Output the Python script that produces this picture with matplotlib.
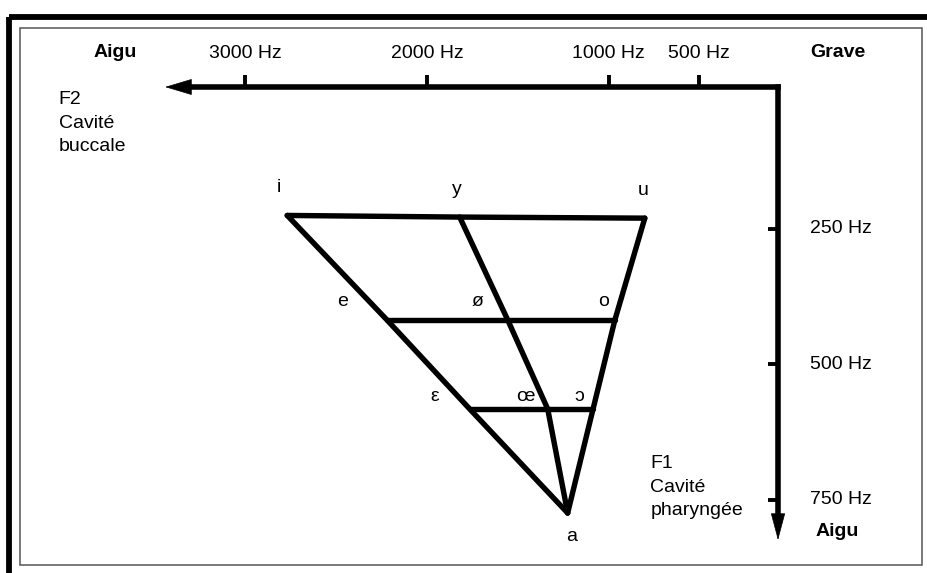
import matplotlib
matplotlib.use("Agg")
import matplotlib.pyplot as plt
from matplotlib.patches import Rectangle

plt.rcParams['font.family'] = ['Liberation Sans', 'DejaVu Sans']

# vowel formants (Hz)
vowels = ["i", "y", "u", "e", "ø", "o", "ε", "œ", "ɔ", "a"]
f2 = [2770, 1820, 800, 2220, 1555, 965, 1765, 1335, 1085, 1225]
f1 = [225, 228, 230, 418, 418, 418, 582, 582, 582, 774]
# label offsets in points (dx, dy)
label_off = [(-6, 20), (-2, 20), (-1, 20), (-32, 13), (-22, 13), (-8, 13),
             (-25, 9), (-16, 9), (-10, 9), (3, -17)]

# the lines of the trapezium, as vowel chains
chains = [["i", "y", "u"], ["e", "ø", "o"], ["ε", "œ", "ɔ"],
          ["i", "e", "ε", "a"], ["y", "ø", "œ", "a"], ["u", "o", "ɔ", "a"]]

f2_ticks = [3000, 2000, 1000, 500]
f1_ticks = [250, 500, 750]

W, H = 928, 573
fig = plt.figure(figsize=(W / 100, H / 100), dpi=100)

# frame, in pixels
fr = fig.add_axes([0, 0, 1, 1])
fr.set_xlim(0, W)
fr.set_ylim(H, 0)
fr.axis("off")
fr.add_patch(Rectangle((9.5, 16.5), 940, 600, fill=False, lw=4.2, ec="black"))
fr.add_patch(Rectangle((20.5, 28), 902, 537, fill=False, lw=1.1, ec="#555555"))

# chart in Hz
ax = fig.add_axes([0, 0, 1, 1])
ax.patch.set_alpha(0)
ax.set_xlim(4352.6, -760.3)
ax.set_ylim(884.7, -172.5)
ax.axis("off")

corner_f2, corner_f1 = 66, -12
end_f2, end_f1 = 3443, 824
fs = 14

ax.plot([corner_f2, 3361], [corner_f1, corner_f1], color="black", lw=4.0,
        solid_capstyle="projecting")
ax.plot([corner_f2, corner_f2], [corner_f1, 796], color="black", lw=4.0,
        solid_capstyle="projecting")
ax.annotate("", xy=(end_f2, corner_f1), xytext=(3300, corner_f1),
            arrowprops=dict(arrowstyle="-|>,head_length=0.9,head_width=0.27",
                            mutation_scale=20, color="black", lw=0.5,
                            shrinkA=0, shrinkB=0))
ax.annotate("", xy=(corner_f2, end_f1), xytext=(corner_f2, 760),
            arrowprops=dict(arrowstyle="-|>,head_length=0.9,head_width=0.24",
                            mutation_scale=20, color="black", lw=0.5,
                            shrinkA=0, shrinkB=0))

for t in f2_ticks:
    ax.plot([t, t], [corner_f1, corner_f1 - 22], color="black", lw=2.8,
            solid_capstyle="butt")
    ax.text(t, -73, f"{t} Hz", ha="center", va="center", fontsize=fs)
for t in f1_ticks:
    ax.plot([corner_f2, corner_f2 + 55], [t, t], color="black", lw=2.8,
            solid_capstyle="butt")
    ax.text(-110, t, f"{t} Hz", ha="left", va="center", fontsize=fs)

ax.text(3720, -76, "Aigu", ha="center", va="center", fontsize=fs,
        fontweight="bold")
ax.text(-265, -76, "Grave", ha="center", va="center", fontsize=fs,
        fontweight="bold")
ax.text(-138, 809, "Aigu", ha="left", va="center", fontsize=fs,
        fontweight="bold")
ax.text(4030, -4, "F2\nCavité\nbuccale", ha="left", va="top",
        fontsize=fs, linespacing=1.5)
ax.text(770, 667, "F1\nCavité\npharyngée", ha="left", va="top", fontsize=fs,
        linespacing=1.5)

pos = dict(zip(vowels, zip(f2, f1)))
for chain in chains:
    xs = [pos[v][0] for v in chain]
    ys = [pos[v][1] for v in chain]
    ax.plot(xs, ys, color="black", lw=3.9, solid_joinstyle="miter",
            solid_capstyle="round")

for v, x, y, (dx, dy) in zip(vowels, f2, f1, label_off):
    ax.annotate(v, (x, y), xytext=(dx, dy), textcoords="offset points",
                ha="center", va="center", fontsize=fs)

fig.savefig("out.png", dpi=100)
